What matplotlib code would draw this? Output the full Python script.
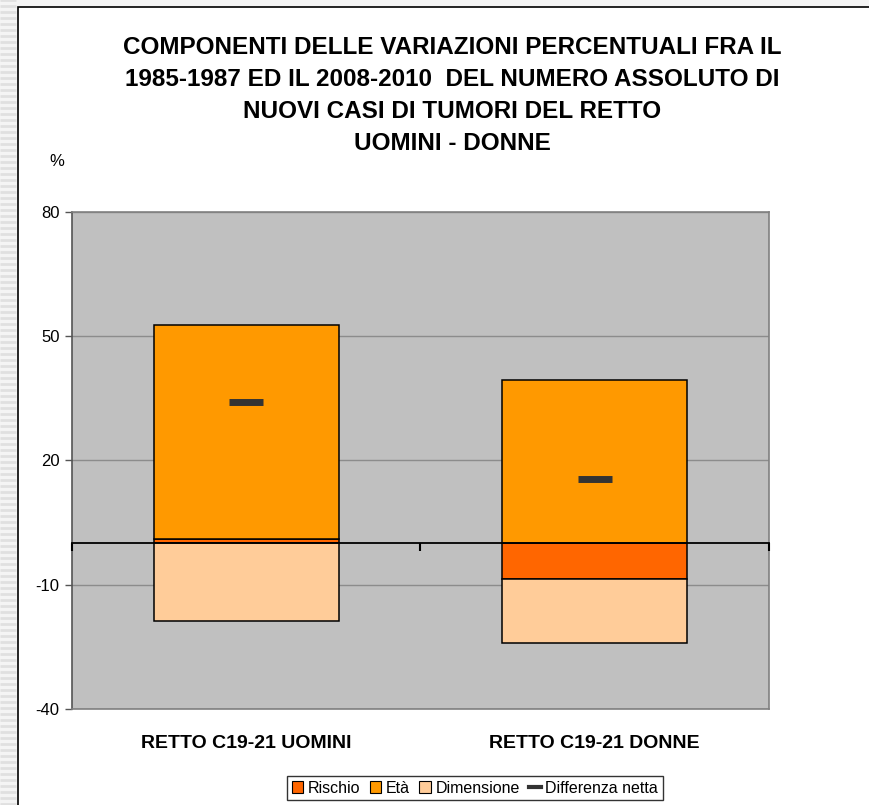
import numpy as np
import matplotlib
matplotlib.use("Agg")
import matplotlib.pyplot as plt
from matplotlib.patches import Patch, Rectangle
from matplotlib.lines import Line2D

plt.rcParams['font.family'] = ['Liberation Sans', 'DejaVu Sans']
plt.rcParams['axes.unicode_minus'] = False

# data
categories = ["RETTO C19-21 UOMINI", "RETTO C19-21 DONNE"]
rischio = [1.1, -8.5]
eta = [51.7, 39.4]
dimensione = [-18.8, -15.5]
differenza_netta = [34.1, 15.6]
yticks = [-40, -10, 20, 50, 80]

series = [("Rischio", rischio, "#FF6600"),
          ("Età", eta, "#FF9900"),
          ("Dimensione", dimensione, "#FFCC99")]

W, H = 870, 805
fig = plt.figure(figsize=(W / 100, H / 100), dpi=100)
fig.patch.set_facecolor("white")

# slide background stripes on the left / top edge
fig.add_artist(Rectangle((0, 0), 1, 1, transform=fig.transFigure,
                         facecolor="#F4F4F4", edgecolor="none", zorder=-5))
for yy in np.arange(0, H, 6):
    fig.add_artist(Line2D([0, 16 / W], [1 - yy / H, 1 - yy / H], transform=fig.transFigure,
                          color="#E0E0E0", lw=2.0, solid_capstyle="butt", zorder=-4))
fig.add_artist(Rectangle((18 / W, -0.01), 1.0, 1 - 7 / H + 0.01, transform=fig.transFigure,
                         facecolor="white", edgecolor="black", lw=1.2, zorder=-2))

ax = fig.add_axes([72 / W, 1 - 709 / H, (769 - 72) / W, (709 - 212) / H])
ax.set_facecolor("#C0C0C0")

x = np.arange(len(categories))
pos_base = np.zeros(len(categories))
neg_base = np.zeros(len(categories))
for name, vals, col in series:
    vals = np.array(vals)
    bottoms = np.where(vals >= 0, pos_base, neg_base)
    ax.bar(x, vals, bottom=bottoms, width=0.53, color=col, edgecolor="black",
           linewidth=1.1, zorder=3)
    pos_base = pos_base + np.where(vals >= 0, vals, 0)
    neg_base = neg_base + np.where(vals < 0, vals, 0)

ax.plot(x, differenza_netta, ls="none", marker="_", ms=24, mew=5, color="#333333", zorder=5)

ymin, ymax = yticks[0], yticks[-1]
ax.set_ylim(ymin, ymax)
ax.set_xlim(-0.5, len(categories) - 0.5)
ax.set_yticks(yticks)
ax.yaxis.grid(True, color="#8C8C8C", lw=1)
ax.set_axisbelow(True)
ax.tick_params(axis="y", direction="out", length=5, width=1, color="#555555",
               labelsize=12, pad=4)
ax.set_xticks(x)
ax.set_xticklabels(categories, fontweight="bold", fontsize=14)
ax.tick_params(axis="x", length=0, pad=19)
for s in ax.spines.values():
    s.set_color("#808080")
    s.set_linewidth(1.2)
ax.spines["left"].set_color("#555555")

# category axis crossing at zero
zero_pos = (0 - ymin) / (ymax - ymin)
sec = ax.secondary_xaxis(zero_pos)
sec.set_xticks(np.arange(len(categories) + 1) - 0.5)
sec.set_xticklabels([])
sec.tick_params(direction="out", length=6, width=1.5, color="black")
sec.spines["bottom"].set_color("black")
sec.spines["bottom"].set_linewidth(1.3)
sec.set_zorder(6)

fig.text(57 / W, 1 - 161 / H, "%", fontsize=12, ha="center", va="center")
fig.text(452 / W, 1 - 96 / H,
         "COMPONENTI DELLE VARIAZIONI PERCENTUALI FRA IL\n"
         "1985-1987 ED IL 2008-2010  DEL NUMERO ASSOLUTO DI\n"
         "NUOVI CASI DI TUMORI DEL RETTO\n"
         "UOMINI - DONNE",
         fontsize=17.5, fontweight="bold", ha="center", va="center", linespacing=1.5)

handles = [Patch(facecolor=c, edgecolor="black", lw=0.8) for _, _, c in series]
handles.append(Line2D([0], [0], color="#333333", lw=3))
labels = [n for n, _, _ in series] + ["Differenza netta"]
leg = fig.legend(handles, labels, loc="center", bbox_to_anchor=(475 / W, 1 - 788 / H), ncol=4,
                 fontsize=11.5, frameon=True, fancybox=False, edgecolor="black",
                 handlelength=0.7, handleheight=0.7, handletextpad=0.3,
                 columnspacing=0.6, borderpad=0.3)
leg.get_frame().set_linewidth(1)

fig.savefig("out.png", dpi=100)
